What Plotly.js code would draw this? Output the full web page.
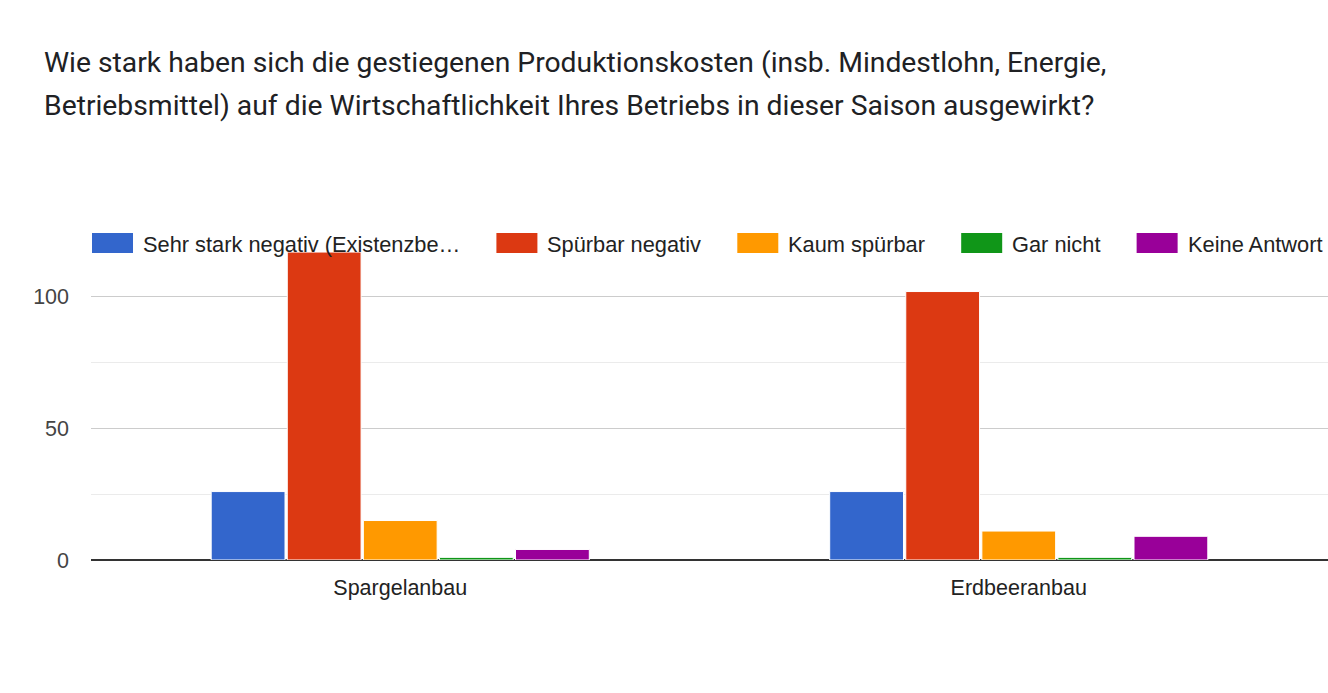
<!DOCTYPE html>
<html>
<head>
<meta charset="utf-8">
<script src="https://cdn.plot.ly/plotly-3.0.1.min.js"></script>
<style>
  html, body { margin: 0; padding: 0; background: #fff; }
  #chart { width: 1328px; height: 693px; }
</style>
</head>
<body>
<div id="chart"></div>
<script>
// question text (two lines as in the form summary)
var titleLines = [
    "Wie stark haben sich die gestiegenen Produktionskosten (insb. Mindestlohn, Energie,",
    "Betriebsmittel) auf die Wirtschaftlichkeit Ihres Betriebs in dieser Saison ausgewirkt?"
];

var categories = ["Spargelanbau", "Erdbeeranbau"];

var seriesNames = [
    "Sehr stark negativ (Existenzbe\u2026",
    "Spürbar negativ",
    "Kaum spürbar",
    "Gar nicht",
    "Keine Antwort"
];
var sehrStarkNegativ = [26, 26];
var spuerbarNegativ = [117, 102];
var kaumSpuerbar = [15, 11];
var garNicht = [1, 1];
var keineAntwort = [4, 9];

var yTicks = [0, 50, 100];

var colors = ["#3366cc", "#dc3912", "#ff9900", "#109618", "#990099"];

var W = 1328, H = 693;
var margin = { l: 91, r: 0, t: 231, b: 133 };
var plotW = W - margin.l - margin.r;
var plotH = H - margin.t - margin.b;
var baseFont = "Arial, 'Liberation Sans', sans-serif";
var fontSize = 21.5;
var legendFontSize = 21.8;

function pxToPaperX(px) { return (px - margin.l) / plotW; }
function pxToPaperY(py) { return (H - margin.b - py) / plotH; }

function makeTraces() {
    var values = [sehrStarkNegativ, spuerbarNegativ, kaumSpuerbar, garNicht, keineAntwort];
    var traces = [];
    for (var i = 0; i < values.length; i++) {
        traces.push({
            type: "bar",
            name: seriesNames[i],
            x: categories,
            y: values[i],
            marker: { color: colors[i], line: { color: "#ffffff", width: 1 } },
            hoverinfo: "x+y+name"
        });
    }
    return traces;
}

// google charts style legend: wide swatch, label, big gap to next entry.
// plotly's own legend wraps this into a column, so it is laid out by hand
function makeLegend() {
    var ctx = document.createElement("canvas").getContext("2d");
    ctx.font = legendFontSize + "px Arial, 'Liberation Sans', sans-serif";
    var shapes = [], annos = [];
    var x = 92;              // left of first swatch
    var swW = 41, swTop = 233, swBot = 253, textGap = 10, entryGap = 36;
    for (var i = 0; i < seriesNames.length; i++) {
        shapes.push({
            type: "rect", xref: "paper", yref: "paper",
            x0: pxToPaperX(x), x1: pxToPaperX(x + swW),
            y0: pxToPaperY(swBot), y1: pxToPaperY(swTop),
            fillcolor: colors[i], line: { width: 0 }
        });
        var tx = x + swW + textGap;
        annos.push({
            text: seriesNames[i],
            xref: "paper", yref: "paper",
            x: pxToPaperX(tx - 2), y: pxToPaperY((swTop + swBot) / 2 + 1),
            xanchor: "left", yanchor: "middle",
            showarrow: false,
            font: { family: baseFont, size: legendFontSize, color: "#222222" }
        });
        x = tx + ctx.measureText(seriesNames[i]).width + entryGap;
    }
    return { shapes: shapes, annotations: annos };
}

var legendParts = makeLegend();

var titleAnnos = [
    {
        text: titleLines[0],
        xref: "paper", yref: "paper",
        x: pxToPaperX(42), y: pxToPaperY(62),
        xanchor: "left", yanchor: "middle",
        showarrow: false,
        font: { family: "Roboto, sans-serif", size: 28.3, color: "#202124" }
    },
    {
        text: titleLines[1],
        xref: "paper", yref: "paper",
        x: pxToPaperX(42), y: pxToPaperY(106),
        xanchor: "left", yanchor: "middle",
        showarrow: false,
        font: { family: "Roboto, sans-serif", size: 28.3, color: "#202124" }
    }
];

var layout = {
    width: W,
    height: H,
    margin: { l: margin.l, r: margin.r, t: margin.t, b: margin.b, autoexpand: false },
    paper_bgcolor: "#ffffff",
    plot_bgcolor: "#ffffff",
    font: { family: baseFont, size: fontSize, color: "#222222" },
    barmode: "group",
    bargap: 0.385,
    bargroupgap: 0.03,
    showlegend: false,
    xaxis: {
        type: "category",
        showgrid: false,
        showline: false,
        ticks: "",
        ticklabelstandoff: 12,
        tickfont: { size: fontSize, color: "#222222" },
        fixedrange: true
    },
    yaxis: {
        range: [0, 125],
        tickvals: yTicks,
        showgrid: true,
        gridcolor: "#cccccc",
        gridwidth: 1,
        minor: { dtick: 25, showgrid: true, gridcolor: "#ebebeb", gridwidth: 1 },
        zeroline: true,
        zerolinecolor: "#333333",
        zerolinewidth: 1.5,
        showline: false,
        ticks: "",
        ticklabelstandoff: 21,
        tickfont: { size: fontSize, color: "#444444" },
        fixedrange: true
    },
    shapes: legendParts.shapes,
    annotations: titleAnnos.concat(legendParts.annotations)
};

Plotly.newPlot("chart", makeTraces(), layout, { displayModeBar: false, staticPlot: true });
</script>
</body>
</html>
